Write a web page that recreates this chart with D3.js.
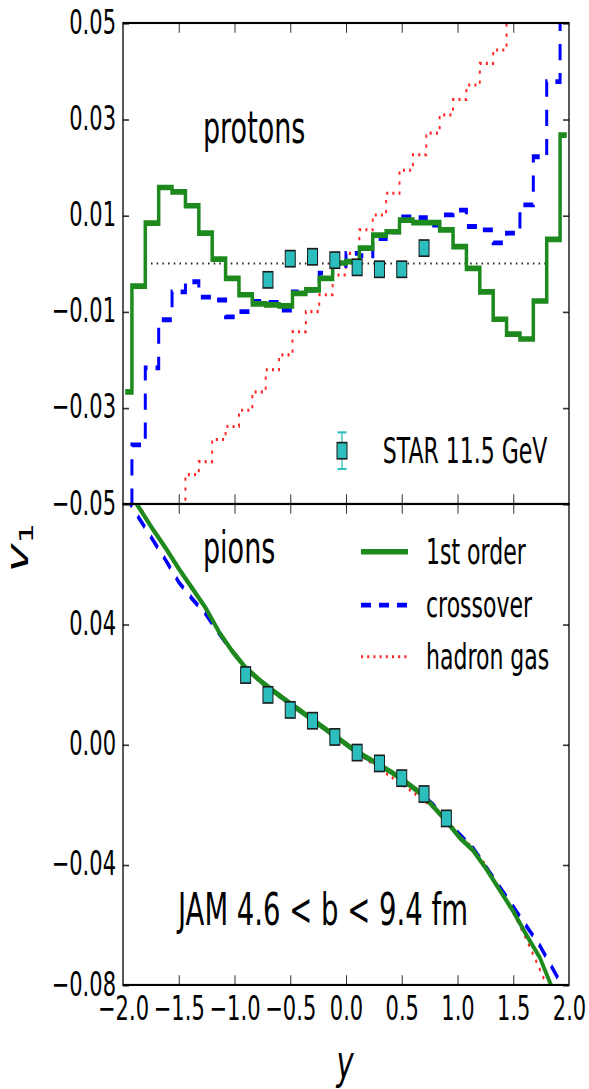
<!DOCTYPE html>
<html>
<head>
<meta charset="utf-8">
<script src="https://cdn.jsdelivr.net/npm/d3@7"></script>
<style>
  html, body { margin: 0; padding: 0; background: #fff; }
  svg { display: block; }
  text { font-family: "DejaVu Sans", sans-serif; fill: #000; }
</style>
</head>
<body>
<svg id="chart" width="589" height="1089"></svg>
<script>
// ---- data -------------------------------------------------------------
// rapidity bin centres used by the JAM curves
const rapidity = [-1.98, -1.86, -1.74, -1.62, -1.50, -1.38, -1.26, -1.14, -1.02, -0.90,
                  -0.78, -0.66, -0.54, -0.42, -0.30, -0.18, -0.06, 0.06, 0.18, 0.30,
                  0.42, 0.54, 0.66, 0.78, 0.90, 1.02, 1.14, 1.26, 1.38, 1.50,
                  1.62, 1.74, 1.86, 1.98];

// protons, directed flow v1(y)
const protonFirstOrder = [-0.0267, -0.0047, 0.0084, 0.0158, 0.0149, 0.0120, 0.0063, 0.0009, -0.0031, -0.0065,
                          -0.0084, -0.0086, -0.0088, -0.0062, -0.0055, -0.0031, 0.0001, 0.0004, 0.0032, 0.0059,
                          0.0066, 0.0090, 0.0085, 0.0085, 0.0070, 0.0035, -0.0010, -0.0059, -0.0116, -0.0147,
                          -0.0157, -0.0078, 0.0050, 0.0267];
const protonCrossover = [-0.0600, -0.0377, -0.0217, -0.0117, -0.0059, -0.0038, -0.0070, -0.0076, -0.0111, -0.0100,
                         -0.0079, -0.0081, -0.0097, -0.0059, -0.0055, -0.0020, -0.0004, 0.0021, 0.0016, 0.0052,
                         0.0066, 0.0097, 0.0095, 0.0080, 0.0101, 0.0111, 0.0077, 0.0070, 0.0043, 0.0063,
                         0.0122, 0.0222, 0.0378, 0.0620];
const protonHadronGas = [-0.0750, -0.0700, -0.0650, -0.0600, -0.0530, -0.0439, -0.0412, -0.0366, -0.0339, -0.0305,
                         -0.0267, -0.0221, -0.0190, -0.0142, -0.0100, -0.0065, -0.0024, 0.0021, 0.0070, 0.0101,
                         0.0146, 0.0194, 0.0226, 0.0271, 0.0309, 0.0341, 0.0371, 0.0416, 0.0444, 0.0520,
                         0.0560, 0.0600, 0.0650, 0.0700];

// pions, directed flow v1(y)
const pionFirstOrder = [0.0860, 0.0790, 0.0720, 0.0655, 0.0585, 0.0520, 0.0455, 0.0375, 0.0310, 0.0255,
                        0.0215, 0.0180, 0.0147, 0.0115, 0.0082, 0.0050, 0.0018, -0.0015, -0.0042, -0.0068,
                        -0.0095, -0.0126, -0.0160, -0.0205, -0.0255, -0.0310, -0.0352, -0.0415, -0.0485, -0.0555,
                        -0.0635, -0.0710, -0.0820, -0.0900];
const pionCrossover = [0.0830, 0.0755, 0.0685, 0.0615, 0.0540, 0.0485, 0.0435, 0.0370, 0.0310, 0.0255,
                       0.0215, 0.0180, 0.0147, 0.0114, 0.0081, 0.0049, 0.0017, -0.0015, -0.0043, -0.0069,
                       -0.0095, -0.0126, -0.0160, -0.0200, -0.0250, -0.0300, -0.0345, -0.0410, -0.0475, -0.0540,
                       -0.0605, -0.0670, -0.0750, -0.0830];
const pionHadronGas = [0.0880, 0.0800, 0.0720, 0.0650, 0.0580, 0.0515, 0.0450, 0.0375, 0.0310, 0.0255,
                       0.0210, 0.0176, 0.0145, 0.0113, 0.0081, 0.0049, 0.0016, -0.0016, -0.0049, -0.0081,
                       -0.0112, -0.0143, -0.0175, -0.0210, -0.0252, -0.0302, -0.0345, -0.0405, -0.0480, -0.0560,
                       -0.0650, -0.0750, -0.0850, -0.0950];

// STAR 11.5 GeV measurements
const starProtonY = [-0.7, -0.5, -0.3, -0.1, 0.1, 0.3, 0.5, 0.7];
const starProtonV1 = [-0.0034, 0.0010, 0.0014, 0.0007, -0.0008, -0.0012, -0.0012, 0.0032];
const starPionY = [-0.9, -0.7, -0.5, -0.3, -0.1, 0.1, 0.3, 0.5, 0.7, 0.9];
const starPionV1 = [0.0231, 0.0165, 0.0115, 0.0079, 0.0025, -0.0027, -0.0063, -0.0112, -0.0165, -0.0246];

// zero reference line extent in the proton panel
const zeroLineY = [-1.8, 1.8];

// axis ticks
const xTicks = [-2.0, -1.5, -1.0, -0.5, 0.0, 0.5, 1.0, 1.5, 2.0];
const protonTicks = [0.05, 0.03, 0.01, -0.01, -0.03, -0.05];
const pionTicks = [0.04, 0.00, -0.04, -0.08];

const legendEntries = ["1st order", "crossover", "hadron gas"];

// ---- layout -----------------------------------------------------------
// the figure is drawn in a squat frame and stretched vertically
const SY = 1.62;
const plotLeft = 123, plotRight = 569;
const plotTop = 14.2, plotMid = 311.1, plotBottom = 608.0;

const colors = { first: "#1e8a1e", cross: "#0000ff", hadron: "#ff2424", star: "#2cbdbd" };

const svg = d3.select("#chart");
const root = svg.append("g").attr("transform", `scale(1,${SY})`);

const x = d3.scaleLinear().domain([-2, 2]).range([plotLeft, plotRight]);
const yP = d3.scaleLinear().domain([-0.05, 0.05]).range([plotMid, plotTop]);
const yPi = d3.scaleLinear().domain([-0.08, 0.08]).range([plotBottom, plotMid]);

const fmtMinus = s => s.replace("-", "\u2212");

const defs = root.append("defs");
defs.append("clipPath").attr("id", "clipP")
  .append("rect").attr("x", plotLeft).attr("y", plotTop)
  .attr("width", plotRight - plotLeft).attr("height", plotMid - plotTop);
defs.append("clipPath").attr("id", "clipPi")
  .append("rect").attr("x", plotLeft).attr("y", plotMid)
  .attr("width", plotRight - plotLeft).attr("height", plotBottom - plotMid);

const styles = {
  first: { stroke: colors.first, width: 3.5, dash: null },
  cross: { stroke: colors.cross, width: 3, dash: "10,8" },
  hadron: { stroke: colors.hadron, width: 1.9, dash: "2,4.2" }
};

function drawLine(g, xs, ys, yScale, st, curve) {
  const pts = xs.map((v, i) => [v, ys[i]]);
  g.append("path")
    .datum(pts)
    .attr("fill", "none")
    .attr("stroke", st.stroke)
    .attr("stroke-width", st.width)
    .attr("stroke-dasharray", st.dash)
    .attr("d", d3.line().x(d => x(d[0])).y(d => yScale(d[1])).curve(curve));
}

function drawMarkers(g, xs, ys, yScale) {
  g.selectAll(null)
    .data(xs.map((v, i) => [v, ys[i]]))
    .enter().append("rect")
    .attr("x", d => x(d[0]) - 5).attr("y", d => yScale(d[1]) - 5)
    .attr("width", 10).attr("height", 10)
    .attr("fill", colors.star).attr("stroke", "#1a1a1a").attr("stroke-width", 1);
}

// ---- proton panel -----------------------------------------------------
const gP = root.append("g").attr("clip-path", "url(#clipP)");
gP.append("line")
  .attr("x1", x(zeroLineY[0])).attr("x2", x(zeroLineY[1]))
  .attr("y1", yP(0)).attr("y2", yP(0))
  .attr("stroke", "#222").attr("stroke-width", 1.3).attr("stroke-dasharray", "1.5,4.2");
drawLine(gP, rapidity, protonHadronGas, yP, styles.hadron, d3.curveStep);
drawLine(gP, rapidity, protonCrossover, yP, styles.cross, d3.curveStep);
drawLine(gP, rapidity, protonFirstOrder, yP, styles.first, d3.curveStep);
drawMarkers(gP, starProtonY, starProtonV1, yP);

// ---- pion panel -------------------------------------------------------
const gPi = root.append("g").attr("clip-path", "url(#clipPi)");
drawLine(gPi, rapidity, pionHadronGas, yPi, styles.hadron, d3.curveLinear);
drawLine(gPi, rapidity, pionCrossover, yPi, styles.cross, d3.curveLinear);
drawLine(gPi, rapidity, pionFirstOrder, yPi, styles.first, d3.curveLinear);
drawMarkers(gPi, starPionY, starPionV1, yPi);

// ---- frames and ticks -------------------------------------------------
const tickLen = 6;
function frame(y0, y1, yScale, yTickVals, showBottomLabels) {
  const g = root.append("g");
  const la = g.append("g").attr("transform", `translate(${plotLeft},0)`)
    .call(d3.axisLeft(yScale).tickValues(yTickVals).tickSizeInner(-tickLen).tickSizeOuter(0)
      .tickPadding(7).tickFormat(d => fmtMinus(d3.format(".2f")(d))));
  const ra = g.append("g").attr("transform", `translate(${plotRight},0)`)
    .call(d3.axisRight(yScale).tickValues(yTickVals).tickSizeInner(-tickLen).tickSizeOuter(0).tickFormat(""));
  const ta = g.append("g").attr("transform", `translate(0,${y0})`)
    .call(d3.axisTop(x).tickValues(xTicks.slice(1, -1)).tickSizeInner(-tickLen).tickSizeOuter(0).tickFormat(""));
  const ba = g.append("g").attr("transform", `translate(0,${y1})`)
    .call(d3.axisBottom(x).tickValues(showBottomLabels ? xTicks : xTicks.slice(1, -1))
      .tickSizeInner(-tickLen).tickSizeOuter(0).tickPadding(6.8)
      .tickFormat(showBottomLabels ? (d => fmtMinus(d3.format(".1f")(d))) : ""));
  [la, ra, ta, ba].forEach(a => {
    a.select(".domain").remove();
    a.attr("font-family", null).attr("font-size", null);
    a.selectAll(".tick line").attr("stroke", "#333").attr("stroke-width", 1);
    a.selectAll(".tick text").attr("font-size", 21).attr("fill", "#000");
  });
  la.selectAll(".tick text").attr("dy", "0.29em");
  if (showBottomLabels) {
    ba.selectAll(".tick").filter(d => d === -2 || d === 2).select("line").remove();
  }
  g.append("rect")
    .attr("x", plotLeft).attr("y", y0).attr("width", plotRight - plotLeft).attr("height", y1 - y0)
    .attr("fill", "none").attr("stroke", "#000").attr("stroke-width", 1.3);
}
frame(plotTop, plotMid, yP, protonTicks, false);
frame(plotMid, plotBottom, yPi, pionTicks, true);

// ---- annotations ------------------------------------------------------
root.append("text").attr("x", 203).attr("y", 88.3).attr("font-size", 27).text("protons");
root.append("text").attr("x", 203).attr("y", 347.5).attr("font-size", 27).text("pions");
root.append("text").attr("x", 178).attr("y", 571).attr("font-size", 27.5).text("JAM 4.6 < b < 9.4 fm");

// STAR legend
const starLeg = root.append("g");
const sx = 342, sy = 278.2;
starLeg.append("line").attr("x1", sx).attr("x2", sx).attr("y1", sy - 11.3).attr("y2", sy + 11.3)
  .attr("stroke", colors.star).attr("stroke-width", 1.3);
[sy - 11.3, sy + 11.3].forEach(v => starLeg.append("line")
  .attr("x1", sx - 4.5).attr("x2", sx + 4.5).attr("y1", v).attr("y2", v)
  .attr("stroke", colors.star).attr("stroke-width", 1.3));
starLeg.append("rect").attr("x", sx - 5).attr("y", sy - 5).attr("width", 10).attr("height", 10)
  .attr("fill", colors.star).attr("stroke", "#1a1a1a").attr("stroke-width", 1);
starLeg.append("text").attr("x", 382.7).attr("y", 285.6).attr("font-size", 22).text("STAR 11.5 GeV");

// model legend
const legY = [340.6, 373.5, 405.4];
const legStyles = [styles.first, styles.cross, styles.hadron];
legendEntries.forEach((name, i) => {
  const st = legStyles[i];
  root.append("line").attr("x1", 361).attr("x2", 408).attr("y1", legY[i]).attr("y2", legY[i])
    .attr("stroke", st.stroke).attr("stroke-width", st.width).attr("stroke-dasharray", st.dash);
  root.append("text").attr("x", 426).attr("y", legY[i] + 7.3).attr("font-size", 22).text(name);
});

// axis titles
root.append("text")
  .attr("x", 345).attr("y", 665.4).attr("text-anchor", "middle")
  .attr("font-family", "'Liberation Serif', serif").attr("font-style", "italic").attr("font-size", 29)
  .text("y");
const yl = root.append("text")
  .attr("transform", `translate(28,338) rotate(-90)`)
  .attr("text-anchor", "middle")
  .attr("font-family", "'Liberation Serif', serif").attr("font-style", "italic").attr("font-size", 30);
yl.append("tspan").text("v");
yl.append("tspan").attr("font-style", "normal").attr("font-size", 20).attr("dy", 5).text("1");
</script>
</body>
</html>
